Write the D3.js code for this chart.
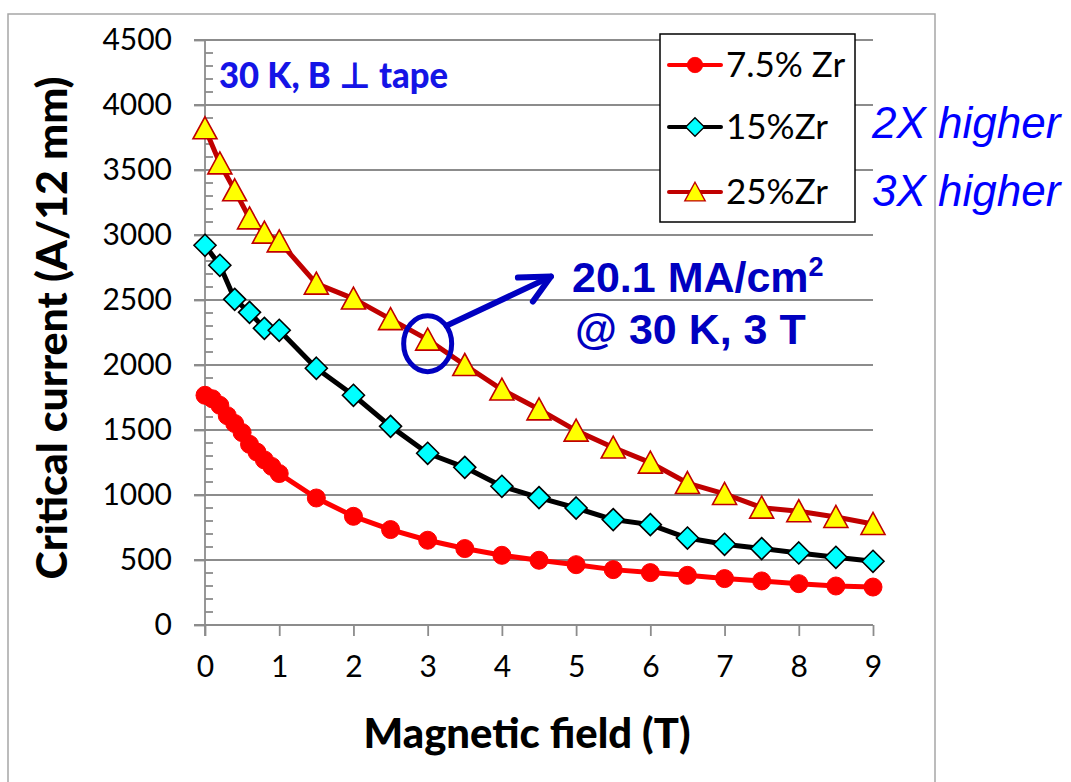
<!DOCTYPE html>
<html>
<head>
<meta charset="utf-8">
<script src="https://cdn.jsdelivr.net/npm/d3@7"></script>
<style>
  html, body { margin: 0; padding: 0; background: #fff; }
  svg { display: block; }
</style>
</head>
<body>
<div id="chart"></div>
<script>
// data
const fieldLow = [0, 0.1, 0.2, 0.3, 0.4, 0.5, 0.6, 0.7, 0.8, 0.9, 1, 1.5, 2, 2.5, 3, 3.5, 4, 4.5, 5, 5.5, 6, 6.5, 7, 7.5, 8, 8.5, 9];
const zr75 = [1767, 1740, 1690, 1610, 1550, 1480, 1390, 1330, 1270, 1220, 1165, 977, 836, 734, 652, 588, 536, 498, 464, 426, 403, 382, 357, 339, 318, 300, 292];

const fieldStd = [0, 0.2, 0.4, 0.6, 0.8, 1, 1.5, 2, 2.5, 3, 3.5, 4, 4.5, 5, 5.5, 6, 6.5, 7, 7.5, 8, 8.5, 9];
const zr15 = [2921, 2767, 2505, 2405, 2282, 2267, 1975, 1767, 1528, 1321, 1213, 1067, 980, 900, 811, 772, 669, 621, 588, 554, 521, 490];
const zr25 = [3821, 3551, 3344, 3128, 3018, 2951, 2626, 2511, 2353, 2195, 2000, 1811, 1659, 1495, 1365, 1249, 1092, 1008, 903, 875, 831, 777];

const seriesNames = ["7.5% Zr", "15%Zr", "25%Zr"];
const xTicks = [0, 1, 2, 3, 4, 5, 6, 7, 8, 9];
const yTicks = [0, 500, 1000, 1500, 2000, 2500, 3000, 3500, 4000, 4500];

const width = 1071, height = 782;

const svg = d3.select("#chart").append("svg")
  .attr("width", width)
  .attr("height", height);

// slide frame
svg.append("rect")
  .attr("x", 8).attr("y", 14)
  .attr("width", 927).attr("height", 800)
  .attr("fill", "none")
  .attr("stroke", "#a6a6a6")
  .attr("stroke-width", 1.5);

const x = d3.scaleLinear().domain([0, 9]).range([205, 873]);
const y = d3.scaleLinear().domain([0, 4500]).range([625, 40]);

const grey = "#8c8c8c";

// gridlines
svg.append("g")
  .selectAll("line")
  .data(yTicks)
  .join("line")
  .attr("x1", 194).attr("x2", x(9))
  .attr("y1", d => y(d)).attr("y2", d => y(d))
  .attr("stroke", grey)
  .attr("stroke-width", 1.8);

// minor ticks every 100
svg.append("g")
  .selectAll("line")
  .data(d3.range(0, 4501, 100).filter(v => v % 500 !== 0))
  .join("line")
  .attr("x1", x(0)).attr("x2", x(0) + 8)
  .attr("y1", d => y(d)).attr("y2", d => y(d))
  .attr("stroke", grey)
  .attr("stroke-width", 1.8);

// y axis
const yAxis = svg.append("g")
  .attr("transform", `translate(${x(0)},0)`)
  .call(d3.axisLeft(y).tickValues(yTicks).tickSize(11).tickPadding(22).tickFormat(d3.format("d")));
yAxis.select(".domain").attr("stroke", grey).attr("stroke-width", 1.8).attr("d", `M0,${y(4500)}V${y(0) + 11}`);
yAxis.selectAll(".tick line").attr("stroke", grey).attr("stroke-width", 1.8);
yAxis.selectAll("text")
  .attr("fill", "#000")
  .style("font-family", "Lato, 'Open Sans', sans-serif")
  .style("font-size", "30px");

// x axis
const xAxis = svg.append("g")
  .attr("transform", `translate(0,${y(0)})`)
  .call(d3.axisBottom(x).tickValues(xTicks).tickSize(11).tickPadding(20).tickFormat(d3.format("d")));
xAxis.select(".domain").remove();
xAxis.selectAll(".tick line").attr("stroke", grey).attr("stroke-width", 1.8);
xAxis.selectAll("text")
  .attr("fill", "#000")
  .style("font-family", "Lato, 'Open Sans', sans-serif")
  .style("font-size", "30px");

// axis titles
svg.append("text")
  .attr("x", 527).attr("y", 748)
  .attr("text-anchor", "middle")
  .attr("textLength", 327)
  .attr("lengthAdjust", "spacingAndGlyphs")
  .style("font-family", "Lato, sans-serif")
  .style("font-weight", "900")
  .style("font-size", "41px")
  .text("Magnetic field (T)");

svg.append("text")
  .attr("transform", "translate(67,328) rotate(-90)")
  .attr("text-anchor", "middle")
  .attr("textLength", 503)
  .attr("lengthAdjust", "spacingAndGlyphs")
  .style("font-family", "Lato, sans-serif")
  .style("font-weight", "900")
  .style("font-size", "42px")
  .text("Critical current (A/12 mm)");

// marker shapes (Excel-like: centred on their bounding box)
const circleMark = d3.symbol().type(d3.symbolCircle).size(255)();
const diamondMark = "M0,-11L11,0L0,11L-11,0Z";
const triangleMark = "M0,-11.5L12,10.5L-12,10.5Z";

// series
const line = d3.line().x(d => x(d[0])).y(d => y(d[1]));
const s75 = fieldLow.map((f, i) => [f, zr75[i]]);
const s15 = fieldStd.map((f, i) => [f, zr15[i]]);
const s25 = fieldStd.map((f, i) => [f, zr25[i]]);

const styles = [
  { data: s75, stroke: "#ff0000", mark: circleMark, fill: "#ff0000", mstroke: "#ff0000", mw: 1 },
  { data: s15, stroke: "#000000", mark: diamondMark, fill: "#00ffff", mstroke: "#000000", mw: 1.6 },
  { data: s25, stroke: "#c00000", mark: triangleMark, fill: "#ffff00", mstroke: "#c00000", mw: 1.6 }
];

// back to front: 25, 15, 7.5
styles.slice().reverse().forEach(s => {
  svg.append("path")
    .datum(s.data)
    .attr("d", line)
    .attr("fill", "none")
    .attr("stroke", s.stroke)
    .attr("stroke-width", 5)
    .attr("stroke-linejoin", "round");
  svg.append("g")
    .selectAll("path")
    .data(s.data)
    .join("path")
    .attr("transform", d => `translate(${x(d[0])},${y(d[1])})`)
    .attr("d", s.mark)
    .attr("fill", s.fill)
    .attr("stroke", s.mstroke)
    .attr("stroke-width", s.mw);
});

// legend
const legend = svg.append("g");
legend.append("rect")
  .attr("x", 660).attr("y", 34)
  .attr("width", 195).attr("height", 188)
  .attr("fill", "#fff")
  .attr("stroke", "#000")
  .attr("stroke-width", 1.5);
const legendY = [65, 127, 192];
styles.forEach((s, i) => {
  const g = legend.append("g").attr("transform", `translate(0,${legendY[i]})`);
  g.append("line")
    .attr("x1", 669).attr("x2", 721)
    .attr("stroke", s.stroke)
    .attr("stroke-width", 4)
    .attr("stroke-linecap", "round");
  g.append("path")
    .attr("transform", "translate(695,0) scale(0.85)")
    .attr("d", s.mark)
    .attr("fill", s.fill)
    .attr("stroke", s.mstroke)
    .attr("stroke-width", s.mw);
  g.append("text")
    .attr("x", 726).attr("y", 12)
    .style("font-family", "Lato, sans-serif")
    .style("font-size", "35px")
    .text(seriesNames[i]);
});

// condition label
svg.append("text")
  .attr("x", 219).attr("y", 88)
  .attr("textLength", 229)
  .attr("lengthAdjust", "spacingAndGlyphs")
  .attr("fill", "#1414e6")
  .style("font-family", "Lato, 'DejaVu Sans', sans-serif")
  .style("font-weight", "900")
  .style("font-size", "36px")
  .text("30 K, B \u22A5 tape");

// right-hand notes
["2X higher", "3X higher"].forEach((t, i) => {
  svg.append("text")
    .attr("x", 872).attr("y", 138 + i * 68)
    .attr("fill", "#0000ff")
    .style("font-family", "'Liberation Sans', Arial, sans-serif")
    .style("font-style", "italic")
    .style("font-size", "44px")
    .text(t);
});

// highlight at 3 T
const blue = "#0000c0";
const cx = x(3), cy = y(2195) + 4;
svg.append("ellipse")
  .attr("cx", cx).attr("cy", cy)
  .attr("rx", 24).attr("ry", 28)
  .attr("fill", "none")
  .attr("stroke", blue)
  .attr("stroke-width", 5);

const tip = [x(4.66), y(2680)];
svg.append("line")
  .attr("x1", cx + 19).attr("y1", cy - 18)
  .attr("x2", tip[0]).attr("y2", tip[1])
  .attr("stroke", blue)
  .attr("stroke-width", 6)
  .attr("stroke-linecap", "round");
svg.append("path")
  .attr("d", `M${tip[0] - 33},${tip[1] + 1} L${tip[0]},${tip[1]} L${tip[0] - 18},${tip[1] + 25}`)
  .attr("fill", "none")
  .attr("stroke", blue)
  .attr("stroke-width", 6)
  .attr("stroke-linecap", "round")
  .attr("stroke-linejoin", "round");

const note = svg.append("g")
  .style("font-family", "'Liberation Sans', Arial, sans-serif")
  .style("font-weight", "bold")
  .attr("fill", blue);
const l1 = note.append("text").attr("x", 572).attr("y", 292).style("font-size", "43px");
l1.append("tspan").text("20.1 MA/cm");
l1.append("tspan").attr("dy", -16).style("font-size", "27px").text("2");
note.append("text").attr("x", 575).attr("y", 344).style("font-size", "43px").text("@ 30 K, 3 T");
</script>
</body>
</html>
